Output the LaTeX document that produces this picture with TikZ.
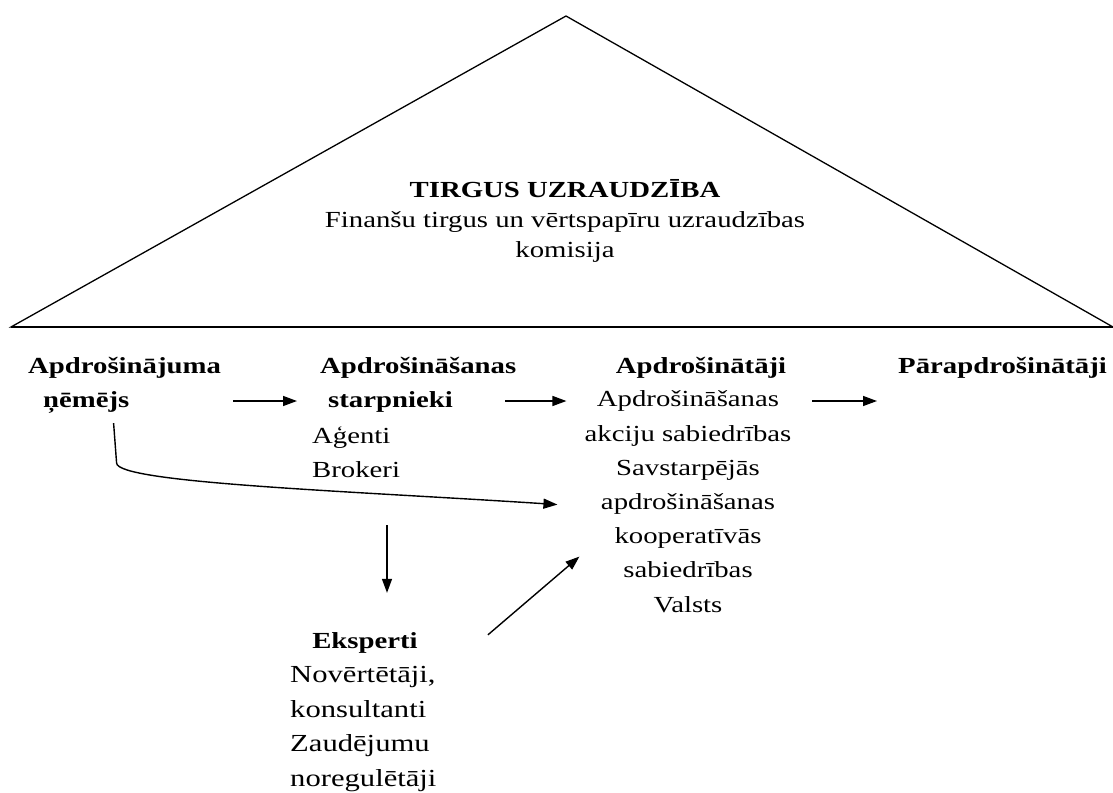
\documentclass[tikz,border=0pt]{standalone}
\usepackage{fontspec}
\setmainfont{Liberation Serif}[FakeStretch=1.25]
\usetikzlibrary{arrows.meta}

\tikzset{
  txt/.style={inner sep=0pt, font=\fontsize{23}{34}\selectfont},
  head/.style={txt, font=\fontsize{23}{34}\selectfont\bfseries},
  arr/.style={line width=1.4pt, -{Triangle[length=14pt,width=10pt]}}
}

\begin{document}
\begin{tikzpicture}[x=1pt, y=-1pt]
    \useasboundingbox (0,0) rectangle (1113,792);

    % Triangle (market supervision)
    \draw[line width=1.3pt] (566,16) -- (11,327) -- (1113,327) -- cycle;
    \draw[line width=2pt] (11,327) -- (1113,327); % heavier base
    \node[txt, anchor=base, align=center, font=\fontsize{23}{30}\selectfont] (tirgus) at (565,257)
        {\textbf{TIRGUS UZRAUDZĪBA}\\Finanšu tirgus un vērtspapīru uzraudzības\\komisija};

    % Participants (anchor base = last line)
    \node[head, anchor=base west, align=left] (nemejs) at (28,407) {Apdrošinājuma\\\hspace*{15pt}ņēmējs};
    \node[head, anchor=base west, align=left] (starp) at (320,407) {Apdrošināšanas\\\hspace*{8pt}starpnieki};
    \node[txt, anchor=base west, align=left] (agenti) at (312,477) {Aģenti\\Brokeri};
    \node[head, anchor=base] (apdr) at (701,373) {Apdrošinātāji};
    \node[txt, anchor=base, align=center, font=\fontsize{23}{34.2}\selectfont] (apdrveidi) at (688,612)
        {Apdrošināšanas\\akciju  sabiedrības\\Savstarpējās\\apdrošināšanas\\kooperatīvās\\sabiedrības\\Valsts};
    \node[head, anchor=base west] (parapdr) at (898,373) {Pārapdrošinātāji};
    \node[head, anchor=base] (eksperti) at (365,648) {Eksperti};
    \node[txt, anchor=base west, align=left, font=\fontsize{24.5}{34.5}\selectfont] (ekspveidi) at (290,786)
        {Novērtētāji,\\konsultanti\\Zaudējumu\\noregulētāji};

    % Arrows
    \coordinate (arow) at (0,401);
    \coordinate (dntop) at (387,525);
    \draw[arr] ([xshift=12pt]nemejs.east |- arow) -- ([xshift=-23pt]starp.west |- arow);
    \draw[arr] ([xshift=-11pt]starp.east |- arow) -- ([xshift=-18pt]apdrveidi.west |- arow);
    \draw[arr] ([xshift=26pt]apdr.east |- arow) -- ([xshift=-21pt]parapdr.west |- arow);
    \draw[arr] ([xshift=-11pt,yshift=-10pt]nemejs.south) -- ++(3,40)
        .. controls +(1,20) and (350,491) .. ([xshift=-27pt,yshift=-3pt]apdrveidi.west);
    \draw[arr] (dntop) -- ([yshift=39pt]dntop |- eksperti.north);
    \draw[arr] ([xshift=70pt,yshift=-3pt]eksperti.north east) -- ([xshift=-5pt,yshift=-55pt]apdrveidi.west);
\end{tikzpicture}
\end{document}
